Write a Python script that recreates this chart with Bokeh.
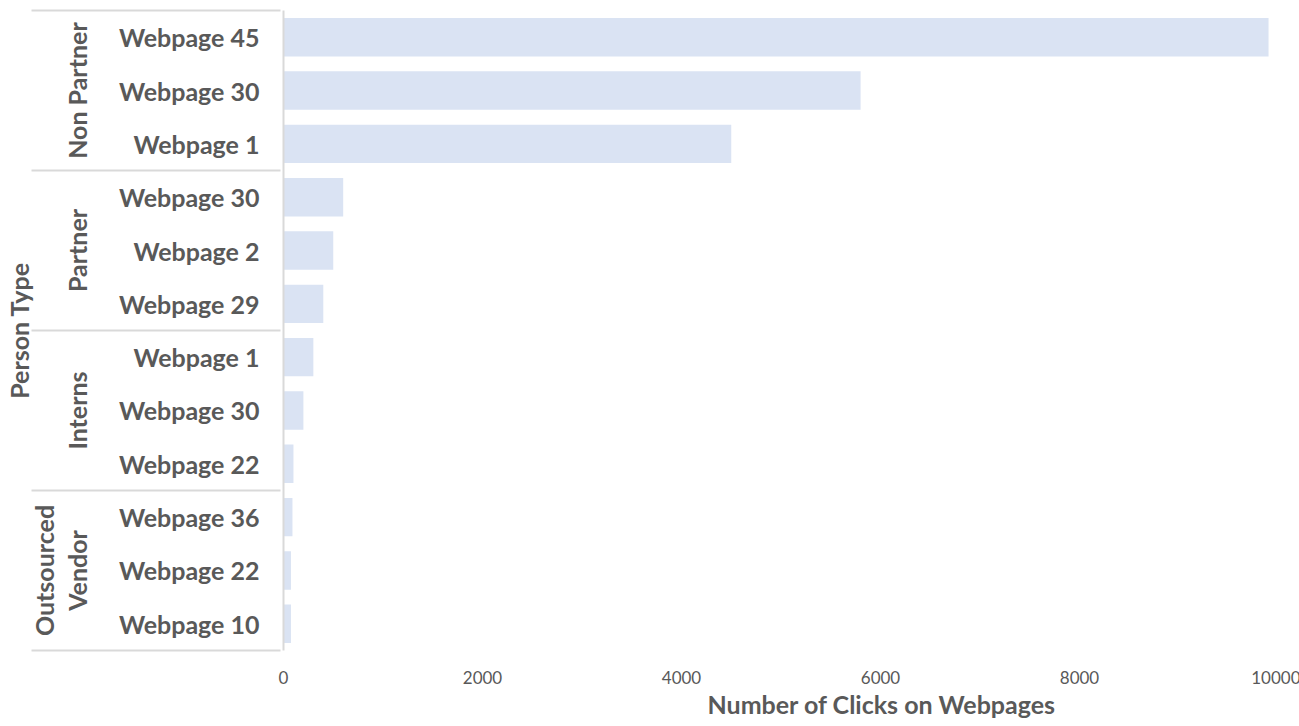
from bokeh.plotting import figure
from bokeh.models import FactorRange, Range1d, FixedTicker, Title, ColumnDataSource
from bokeh.embed import file_html
from bokeh.resources import INLINE

# Top clicked webpages for each person type
person_types = ["Non Partner", "Partner", "Interns", "Outsourced\nVendor"]
non_partner_pages = ["Webpage 45", "Webpage 30", "Webpage 1"]
non_partner_clicks = [9900, 5800, 4500]
partner_pages = ["Webpage 30", "Webpage 2", "Webpage 29"]
partner_clicks = [600, 500, 400]
intern_pages = ["Webpage 1", "Webpage 30", "Webpage 22"]
intern_clicks = [300, 200, 100]
vendor_pages = ["Webpage 36", "Webpage 22", "Webpage 10"]
vendor_clicks = [90, 75, 75]
x_ticks = [0, 2000, 4000, 6000, 8000, 10000]

group_pages = [non_partner_pages, partner_pages, intern_pages, vendor_pages]
group_clicks = [non_partner_clicks, partner_clicks, intern_clicks, vendor_clicks]

# categorical axes run bottom-up, so list the last group first
factors, values = [], []
for g, pages, clicks in reversed(list(zip(person_types, group_pages, group_clicks))):
    for page, c in reversed(list(zip(pages, clicks))):
        factors.append((g, page))
        values.append(c)

src = ColumnDataSource(dict(y=factors, v=values))

# blank edge groups just outside the visible range, so the axis draws a
# group separator along the top and bottom of the frame as well
edge_low, edge_high = (" ", " "), ("  ", "  ")
range_factors = [edge_low] + factors + [edge_high]

TEXT = "#595959"
RULE = "#d9d9d9"
FONT = "Lato"
BOLD_SIZE = "25px"

p = figure(
    y_range=FactorRange(*range_factors, group_padding=0, factor_padding=0,
                        range_padding=-0.999, range_padding_units="absolute"),
    x_range=Range1d(0, 10000),
    frame_width=995, frame_height=640,
    min_border_left=282, min_border_right=22, min_border_top=10, min_border_bottom=76,
    output_backend="svg", toolbar_location=None,
)
p.outline_line_color = None
p.grid.visible = False

p.hbar(y="y", right="v", left=0, height=0.72, source=src,
       fill_color="#dae3f3", line_color=None)

# value axis
xa = p.xaxis[0]
xa.ticker = FixedTicker(ticks=x_ticks)
xa.axis_line_color = None
xa.major_tick_line_color = None
xa.minor_tick_line_color = None
xa.major_tick_out = 0
xa.major_label_text_font = FONT
xa.major_label_text_font_size = "17px"
xa.major_label_text_color = TEXT
xa.major_label_standoff = 20

# category axis with person-type groups
ya = p.yaxis[0]
ya.axis_label = "Person Type"
ya.axis_label_text_font = FONT
ya.axis_label_text_font_size = BOLD_SIZE
ya.axis_label_text_font_style = "bold"
ya.axis_label_text_color = TEXT
ya.axis_label_standoff = -8
ya.axis_line_color = RULE
ya.axis_line_width = 2
ya.major_tick_line_color = None
ya.minor_tick_line_color = None
ya.major_tick_out = 0
ya.major_tick_in = 0
ya.major_label_text_font = FONT
ya.major_label_text_font_size = BOLD_SIZE
ya.major_label_text_font_style = "bold"
ya.major_label_text_color = TEXT
ya.major_label_standoff = 24
ya.group_text_font = FONT
ya.group_text_font_size = BOLD_SIZE
ya.group_text_font_style = "bold"
ya.group_text_color = TEXT
ya.group_text_line_height = 1.1
ya.group_label_orientation = "parallel"
ya.separator_line_color = RULE
ya.separator_line_width = 2

p.add_layout(Title(text="Number of Clicks on Webpages", align="left", offset=424,
                   text_font=FONT, text_font_size=BOLD_SIZE, text_font_style="bold",
                   text_color=TEXT, standoff=0), "below")

open("out.html", "w").write(file_html(p, INLINE))
